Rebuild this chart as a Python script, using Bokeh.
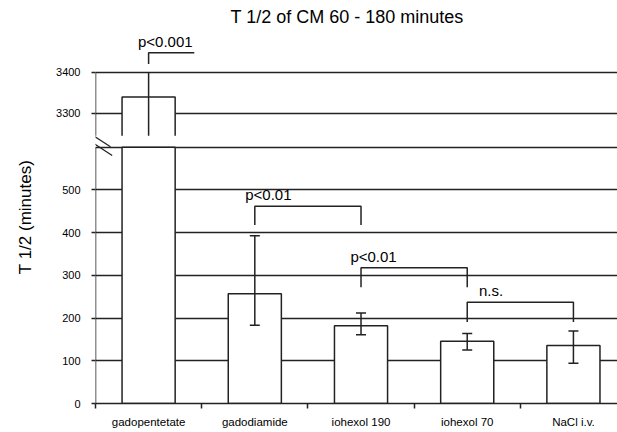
from bokeh.plotting import figure
from bokeh.models import (Range1d, FixedTicker, ColumnDataSource, Whisker,
                          TeeHead, Arrow)
from bokeh.core.properties import value
from bokeh.embed import file_html
from bokeh.resources import INLINE

# ---------------- data ----------------
categories = ["gadopentetate", "gadodiamide", "iohexol 190", "iohexol 70", "NaCl i.v."]
means = [3340, 257, 182, 146, 136]
err_upper = [3400, 393, 212, 164, 170]
err_lower = [3240, 183, 161, 125, 94]

lower_ticks = [0, 100, 200, 300, 400, 500]
upper_ticks = [3300, 3400]

# significance brackets
br_labels = ["p<0.001", "p<0.01", "p<0.01", "n.s."]
br_from = [0, 1, 2, 3]          # category index of left leg
br_to = [None, 2, 3, 4]         # category index of right leg (None = open end)
br_y = [3448, 462, 318, 237]
br_leg = [3420, 418, 272, 191]
br_upper = [True, False, False, False]

# ---------------- layout constants ----------------
FONT = "Liberation Sans"
INK = "#222222"
LOW_TOP = 600        # top of lower panel
UP_BOTTOM = 3245     # bottom of upper panel (axis break)
BAR_W = 0.5

low_range = Range1d(0, 873.5)
up_range = Range1d(2592, 3502)


def to_low(v):
    return round(low_range.start + (v - up_range.start) *
                 (low_range.end - low_range.start) / (up_range.end - up_range.start), 3)


p = figure(width=617, height=432, x_range=Range1d(0, 4.915), y_range=low_range,
           output_backend="svg", toolbar_location=None,
           min_border_left=95, min_border_right=0, min_border_top=30, min_border_bottom=29,
           background_fill_color="white", border_fill_color="white",
           outline_line_color=None, title="T 1/2 of CM 60 - 180 minutes")
p.extra_y_ranges = {"up": up_range}

p.title.align = "left"
p.title.offset = 135
p.title.standoff = 7
p.title.text_font = FONT
p.title.text_font_size = "18px"
p.title.text_font_style = "normal"
p.title.text_color = "black"

# grid
p.xgrid.visible = False
mapped_upper = [to_low(t) for t in upper_ticks]
p.ygrid.ticker = FixedTicker(ticks=lower_ticks[1:] + [LOW_TOP] + mapped_upper)
p.ygrid.grid_line_color = INK
p.ygrid.grid_line_width = 1.6

# y axis
ya = p.yaxis[0]
ya.ticker = FixedTicker(ticks=lower_ticks + mapped_upper)
ya.major_label_overrides = {m: str(t) for m, t in zip(mapped_upper, upper_ticks)}
ya.axis_line_alpha = 0
ya.major_tick_in = 0
ya.major_tick_out = 4
ya.major_tick_line_color = INK
ya.major_tick_line_width = 1.5
ya.minor_tick_line_color = None
ya.major_label_standoff = 11
ya.major_label_text_font = FONT
ya.major_label_text_font_size = "11px"
ya.major_label_text_color = "black"
ya.axis_label = "T 1/2 (minutes)"
ya.axis_label_text_font = FONT
ya.axis_label_text_font_size = "17px"
ya.axis_label_text_font_style = "normal"
ya.axis_label_text_color = "black"
ya.axis_label_standoff = 18

# x axis
centers = [i + 0.5 for i in range(len(categories))]
xa = p.xaxis[0]
xa.ticker = FixedTicker(ticks=centers, minor_ticks=list(range(len(categories))))
xa.major_label_overrides = {c: n for c, n in zip(centers, categories)}
xa.axis_line_color = INK
xa.axis_line_width = 1.5
xa.major_tick_in = 0
xa.major_tick_out = 0
xa.minor_tick_in = 0
xa.minor_tick_out = 5
xa.minor_tick_line_color = INK
xa.minor_tick_line_width = 1.5
xa.major_label_standoff = 7
xa.major_label_text_font = FONT
xa.major_label_text_font_size = "11.5px"
xa.major_label_text_color = "black"

# bars (lower panel)
left = [c - BAR_W / 2 for c in centers]
right = [c + BAR_W / 2 for c in centers]
p.quad(left=left, right=right, bottom=0, top=[min(m, LOW_TOP) for m in means],
       fill_color="white", line_color=INK, line_width=1.5)

# bars continued in upper panel
brk = [i for i, m in enumerate(means) if m > LOW_TOP]
p.quad(left=[left[i] for i in brk], right=[right[i] for i in brk], bottom=UP_BOTTOM,
       top=[means[i] for i in brk], y_range_name="up", fill_color="white", line_alpha=0)
p.multi_line(xs=[[left[i], left[i], right[i], right[i]] for i in brk],
             ys=[[UP_BOTTOM, means[i], means[i], UP_BOTTOM] for i in brk],
             y_range_name="up", line_color=INK, line_width=1.5)

# error bars
norm = [i for i in range(len(means)) if i not in brk]
src_low = ColumnDataSource(dict(x=[centers[i] for i in norm],
                                upper=[err_upper[i] for i in norm],
                                lower=[err_lower[i] for i in norm]))
p.add_layout(Whisker(source=src_low, base="x", upper="upper", lower="lower",
                     dimension="height", level="annotation", line_color=INK, line_width=1.5,
                     upper_head=TeeHead(size=10, line_color=INK, line_width=1.5),
                     lower_head=TeeHead(size=10, line_color=INK, line_width=1.5)))
src_up = ColumnDataSource(dict(x=[centers[i] for i in brk],
                               upper=[err_upper[i] for i in brk],
                               lower=[max(err_lower[i], UP_BOTTOM) for i in brk]))
p.add_layout(Whisker(source=src_up, base="x", upper="upper", lower="lower",
                     dimension="height", level="annotation", y_range_name="up",
                     line_color=INK, line_width=1.5, upper_head=None, lower_head=None))

# brackets and labels
OPEN_END = 0.43   # half-bracket extent (category units)
LABEL_SHIFT = [-0.10, -0.09, -0.10, 0.11]
for up in (True, False):
    idx = [k for k in range(len(br_labels)) if br_upper[k] == up]
    if not idx:
        continue
    xs, ys = [], []
    for k in idx:
        x0 = centers[br_from[k]]
        if br_to[k] is None:
            xs.append([x0, x0, x0 + OPEN_END])
            ys.append([br_leg[k], br_y[k], br_y[k]])
        else:
            x1 = centers[br_to[k]]
            xs.append([x0, x0, x1, x1])
            ys.append([br_leg[k], br_y[k], br_y[k], br_leg[k]])
    kw = dict(y_range_name="up") if up else {}
    p.multi_line(xs=xs, ys=ys, line_color=INK, line_width=1.5, **kw)
    p.text(x=[centers[br_from[k]] + LABEL_SHIFT[k] for k in idx], y=[br_y[k] for k in idx],
           text=[br_labels[k] for k in idx], text_font=value(FONT), text_font_size="15px",
           text_color="black", text_align="left", text_baseline="bottom",
           y_offset=-3, **kw)

# broken y axis line
p.add_layout(Arrow(end=None, x_start=0, y_start=0, x_end=0, y_end=LOW_TOP,
                   line_color=INK, line_width=1.5))
p.add_layout(Arrow(end=None, x_start=0, y_start=UP_BOTTOM, x_end=0, y_end=upper_ticks[-1],
                   y_range_name="up", line_color=INK, line_width=1.5))
# break marks
for (xa0, ya0, xa1, ya1) in [(-0.172, 652, 0.141, 601), (-0.172, 634, 0.157, 581)]:
    p.add_layout(Arrow(end=None, x_start=xa0, y_start=ya0, x_end=xa1, y_end=ya1,
                       line_color=INK, line_width=1.2))

open("out.html", "w").write(file_html(p, INLINE))
